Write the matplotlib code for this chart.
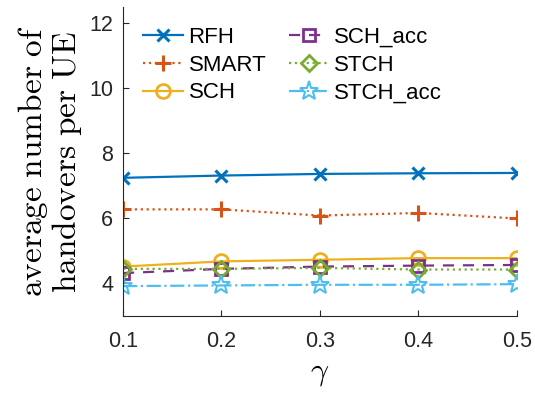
import matplotlib
matplotlib.use('Agg')
import matplotlib.pyplot as plt

# data
gamma = [0.1, 0.2, 0.3, 0.4, 0.5]
rfh = [7.25, 7.32, 7.37, 7.39, 7.40]
smart = [6.28, 6.28, 6.09, 6.17, 6.00]
sch = [4.52, 4.68, 4.73, 4.78, 4.78]
sch_acc = [4.32, 4.45, 4.52, 4.55, 4.57]
stch = [4.45, 4.45, 4.48, 4.43, 4.43]
stch_acc = [3.92, 3.94, 3.96, 3.96, 3.98]

plt.rcParams['mathtext.fontset'] = 'cm'
plt.rcParams['font.family'] = 'Liberation Sans'

fig = plt.figure(figsize=(5.35, 3.96), dpi=100)
ax = fig.add_axes([0.23, 0.202, 0.736, 0.78])

lw = 1.6
ms = 9
ax.plot(gamma, rfh, color='#0072BD', ls='-', marker='x', lw=lw, ms=ms, mew=2.2, label='RFH')
ax.plot(gamma, smart, color='#D95319', ls=':', marker='+', lw=lw, ms=ms+3, mew=2.2, label='SMART')
ax.plot(gamma, sch, color='#EDB120', ls='-', marker='o', lw=lw, ms=ms+1, mew=2, mfc='none', label='SCH')
ax.plot(gamma, sch_acc, color='#7E2F8E', ls=(0, (5, 4)), marker='s', lw=lw, ms=ms-1, mew=2, mfc='none', label='SCH_acc')
ax.plot(gamma, stch, color='#77AC30', ls=':', marker='D', lw=lw, ms=ms-1, mew=2, mfc='none', label='STCH')
ax.plot(gamma, stch_acc, color='#4DBEEE', ls='-.', marker='*', lw=lw, ms=ms+5, mew=1.5, mfc='none', label='STCH_acc')

ax.set_xlim(0.1, 0.5)
ax.set_ylim(3, 12.5)
ax.set_xticks(gamma)
ax.set_xticklabels(['0.1', '0.2', '0.3', '0.4', '0.5'])
ax.set_yticks([4, 6, 8, 10, 12])
ax.tick_params(labelsize=15.5, direction='in', length=4, color='#262626', labelcolor='#262626')
ax.tick_params(axis='x', pad=11)
ax.tick_params(axis='y', pad=7)
ax.spines['top'].set_visible(False)
ax.spines['right'].set_visible(False)
for s in ['left', 'bottom']:
    ax.spines[s].set_color('#262626')
    ax.spines[s].set_linewidth(0.8)

ax.set_xlabel(r'$\gamma$', fontsize=23, labelpad=4)
ax.set_ylabel(r'$\mathrm{average\ number\ of}$' + '\n' + r'$\mathrm{handovers\ per\ UE}$',
              fontsize=24, linespacing=1.0, labelpad=4)

ax.legend(ncol=2, loc='upper left', frameon=False, fontsize=16, handlelength=1.8,
          columnspacing=1.0, labelspacing=0.3, handletextpad=0.25,
          bbox_to_anchor=(0.0, 1.0), borderaxespad=0.6, borderpad=0.3)

fig.savefig('out.png', dpi=100)
